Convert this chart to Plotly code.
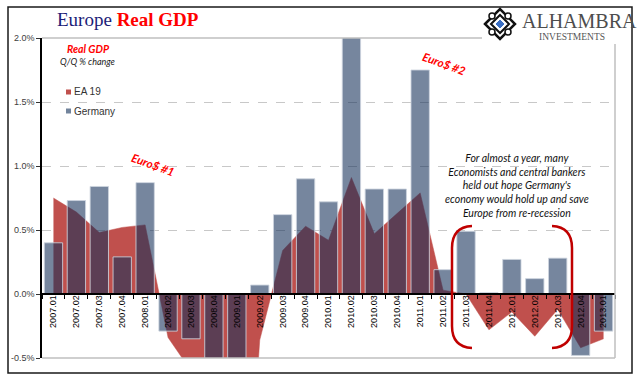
import plotly.graph_objects as go

categories = ["2007.01", "2007.02", "2007.03", "2007.04", "2008.01", "2008.02", "2008.03", "2008.04",
              "2009.01", "2009.02", "2009.03", "2009.04", "2010.01", "2010.02", "2010.03", "2010.04",
              "2011.01", "2011.02", "2011.03", "2011.04", "2012.01", "2012.02", "2012.03", "2012.04",
              "2013.01"]
germany = [0.40, 0.73, 0.84, 0.29, 0.87, -0.29, -0.35, -1.9, -4.5, 0.07, 0.62, 0.90, 0.72, 2.1,
           0.82, 0.82, 1.75, 0.19, 0.49, 0.01, 0.27, 0.12, 0.28, -0.48, -0.29]
ea19 = [0.75, 0.64, 0.48, 0.52, 0.54, -0.34, -0.6, -1.7, -3.0, -0.36, 0.34, 0.53, 0.42, 0.91,
        0.47, 0.63, 0.79, 0.03, 0.0, -0.28, -0.14, -0.33, -0.12, -0.42, -0.35]
y_ticks = [-0.5, 0.0, 0.5, 1.0, 1.5, 2.0]
y_ticktext = ["-0.5%", "0.0%", "0.5%", "1.0%", "1.5%", "2.0%"]

W, H = 640, 382
ML, MR, MT, MB = 42, 25, 38, 24
PW, PH = W - ML - MR, H - MT - MB


def px(x):
    return (x - ML) / PW


def py(y):
    return (H - MB - y) / PH


RED = "#c0504d"
BAR = "rgba(22,50,90,0.59)"
TXT = "Liberation Sans"

fig = go.Figure()
fig.add_trace(go.Scatter(x=categories, y=ea19, name="EA 19", mode="lines", fill="tozeroy",
                         fillcolor=RED, line=dict(color=RED, width=0.5), showlegend=False,
                         xaxis="x", yaxis="y"))
fig.add_trace(go.Bar(x=categories, y=germany, name="Germany", marker=dict(color=BAR,
                     line=dict(color="rgba(205,212,222,0.85)", width=1)), showlegend=False,
                     xaxis="x2", yaxis="y2"))

fig.update_layout(
    width=W, height=H, margin=dict(l=ML, r=MR, t=MT, b=MB),
    paper_bgcolor="white", plot_bgcolor="white", bargap=0.2,
    font=dict(family=TXT, size=9, color="#222"),
    xaxis=dict(type="category", categoryorder="array", categoryarray=categories,
               anchor="free", position=0.2, showline=True, linecolor="black", linewidth=1.5,
               tickson="boundaries", ticks="outside", ticklen=4, tickcolor="black",
               tickangle=-90, tickfont=dict(family=TXT, size=9, color="black"),
               ticklabelstandoff=-3,
               showgrid=False, zeroline=False, range=[-0.5, len(categories) - 0.5]),
    yaxis=dict(range=[-0.5, 2.0], tickvals=y_ticks, ticktext=y_ticktext, showline=True,
               linecolor="black", linewidth=1.5, ticks="outside", ticklen=4, tickcolor="#333",
               tickfont=dict(family=TXT, size=9, color="#404040"), showgrid=True,
               gridcolor="#c8c8c8", griddash="dash", gridwidth=1, zeroline=False, anchor="x"),
    xaxis2=dict(type="category", categoryorder="array", categoryarray=categories,
                overlaying="x", anchor="y2", visible=False, range=[-0.5, len(categories) - 0.5]),
    yaxis2=dict(range=[-0.5, 2.0], overlaying="y", anchor="x2", visible=False),
)

shapes = []
# outer frame
shapes.append(dict(type="rect", xref="paper", yref="paper", x0=px(8), x1=px(632), y0=py(373), y1=py(7),
                   line=dict(color="#1a1a1a", width=1.5), layer="above"))
# plot borders (gray)
for (x0, y0, x1, y1) in [(42, 38, 482, 38), (615, 44, 615, 358), (42, 358, 615, 358)]:
    shapes.append(dict(type="line", xref="paper", yref="paper", x0=px(x0), y0=py(y0), x1=px(x1), y1=py(y1),
                       line=dict(color="#bfbfbf", width=1.5), layer="above"))
# legend squares
shapes.append(dict(type="rect", xref="paper", yref="paper", x0=px(66), x1=px(71), y0=py(94.5), y1=py(89.5),
                   fillcolor=RED, line=dict(width=0)))
shapes.append(dict(type="rect", xref="paper", yref="paper", x0=px(66), x1=px(71), y0=py(113.5), y1=py(108.5),
                   fillcolor="#72849c", line=dict(width=0)))


def path(pts):
    (x0, y0), rest = pts[0], pts[1:]
    s = f"M {px(x0)},{py(y0)}"
    for seg in rest:
        if seg[0] == "Q":
            _, (cx, cy), (ex, ey) = seg
            s += f" Q {px(cx)},{py(cy)} {px(ex)},{py(ey)}"
        else:
            s += f" L {px(seg[1][0])},{py(seg[1][1])}"
    return s


left_br = [(472, 226), ("Q", (452, 227), (452, 248)), ("L", (452, 326)), ("Q", (452, 347), (472, 348))]
right_br = [(552, 226), ("Q", (572, 227), (572, 248)), ("L", (572, 326)), ("Q", (572, 347), (552, 348))]
for b in (left_br, right_br):
    shapes.append(dict(type="path", xref="paper", yref="paper", path=path(b),
                       line=dict(color="#c00000", width=2.5), layer="above"))

# logo diamond
cx, cy, r = 500, 24, 15
dia = f"M {px(cx - r)},{py(cy)} L {px(cx)},{py(cy - r)} L {px(cx + r)},{py(cy)} L {px(cx)},{py(cy + r)} Z"
shapes.append(dict(type="path", xref="paper", yref="paper", path=dia, line=dict(color="#111", width=2.5),
                   fillcolor="white", layer="above"))
r2 = 9
dia2 = f"M {px(cx - r2)},{py(cy)} L {px(cx)},{py(cy - r2)} L {px(cx + r2)},{py(cy)} L {px(cx)},{py(cy + r2)} Z"
shapes.append(dict(type="path", xref="paper", yref="paper", path=dia2, line=dict(color="#111", width=2),
                   fillcolor="white", layer="above"))
for (dx, dy) in [(-8, -8), (8, -8), (-8, 8), (8, 8)]:
    shapes.append(dict(type="circle", xref="paper", yref="paper", x0=px(cx + dx - 3), x1=px(cx + dx + 3),
                       y0=py(cy + dy + 3), y1=py(cy + dy - 3), line=dict(color="#111", width=1.5),
                       fillcolor="white", layer="above"))
r3 = 4
dia3 = f"M {px(cx - r3)},{py(cy)} L {px(cx)},{py(cy - r3)} L {px(cx + r3)},{py(cy)} L {px(cx)},{py(cy + r3)} Z"
shapes.append(dict(type="path", xref="paper", yref="paper", path=dia3, line=dict(color="#3b6fc4", width=1),
                   fillcolor="#3b6fc4", layer="above"))
fig.update_layout(shapes=shapes)

ann = []


def A(text, x, y, xa="center", ya="middle", size=10, color="#222", family=TXT, angle=0):
    ann.append(dict(text=text, x=px(x), y=py(y), xref="paper", yref="paper", xanchor=xa, yanchor=ya,
                    showarrow=False, textangle=angle, font=dict(size=size, color=color, family=family)))


A("<span style='color:#1c1c78'>Europe</span> <b>Real GDP</b>", 55, 19, xa="left", size=19,
  color="#ff0000", family="Liberation Serif")
A("<b><i>Real GDP</i></b>", 88, 49, size=10.5, color="#ff0000", family="Lato")
A("<i>Q/Q % change</i>", 87.5, 62, size=9, color="#222", family="Lato")
A("EA 19", 72, 92, xa="left", size=10, color="#333")
A("Germany", 72, 111, xa="left", size=10, color="#333")
A("<b><i>Euro$ #1</i></b>", 153, 164, size=11.5, color="#ff0000", family="Lato", angle=20)
A("<b><i>Euro$ #2</i></b>", 444, 63, size=11.5, color="#ff0000", family="Lato", angle=20)
A("<i>For almost a year, many<br>Economists and central bankers<br>held out hope Germany's<br>"
  "economy would hold up and save<br>Europe from re-recession</i>", 516.7, 185, size=10.5,
  color="#111", family="Lato")
A("ALHAMBRA", 520, 21, xa="left", size=20, color="#4d4d4d", family="Liberation Serif")
A("INVESTMENTS", 571.7, 36.5, size=9.5, color="#555", family="Liberation Serif")
fig.update_layout(annotations=ann)

fig.write_html("out.html", post_script="document.body.style.margin='0';",
               config={"displayModeBar": False})
